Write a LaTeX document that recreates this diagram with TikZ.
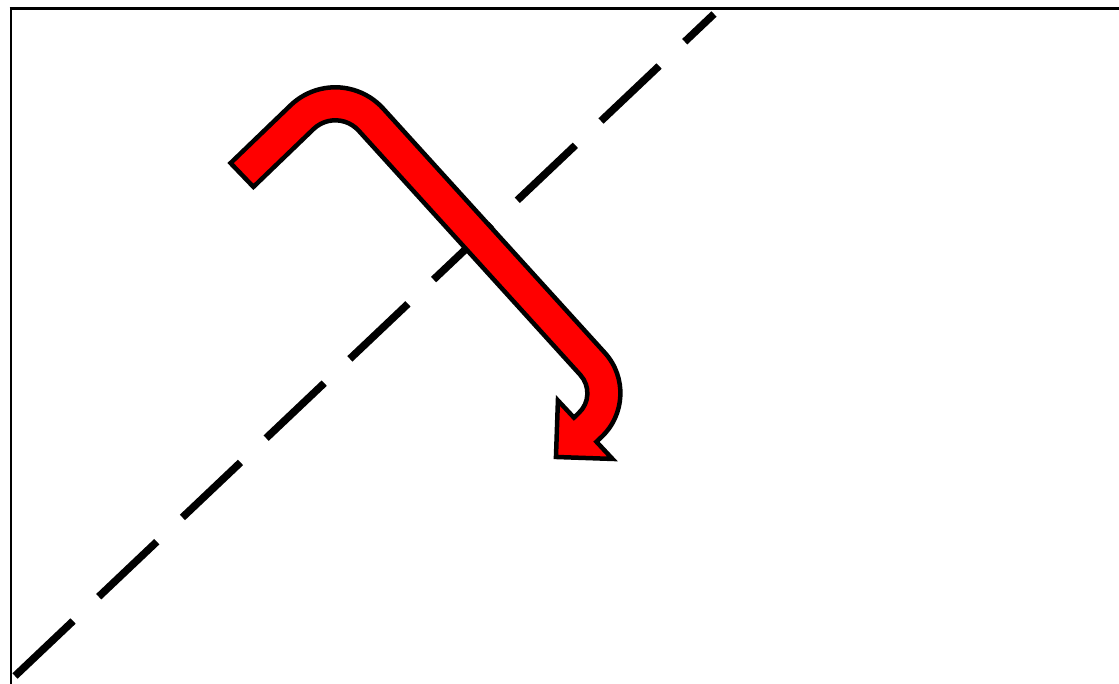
\documentclass[tikz,border=0pt]{standalone}
\begin{document}
\begin{tikzpicture}[x=1pt,y=1pt,
  framerule/.style={draw=black},
  axisline/.style={draw=black,line width=7.5pt,dash pattern=on 80pt off 35.3pt},
  bentarrow/.style={fill=red,draw=black,line width=4.5pt,line join=miter}]
\clip (0,0) rectangle (1119,684);
% frame
\coordinate (ftl) at (11,675);
\coordinate (ftr) at (1130,675);
\coordinate (fbl) at (11,-10);
\draw[framerule,line width=3pt] (ftl) ++(-1.5,0) -- (ftr);
\draw[framerule,line width=2pt] (ftl) -- (fbl);
% dashed diagonal
\coordinate (da) at (15,8);
\coordinate (db) at (714,670);
\draw[axisline] (da) -- (db);
% bent red arrow
\coordinate (tailL) at (230.57,520.90);
\coordinate (tailR) at (253.43,497.10);
\coordinate (tip) at (555.96,227.02);
\draw[bentarrow]
  (tailL) -- (290.66,578.75)
  arc[start angle=133.8,end angle=42.3,radius=64.5]
  -- (604.75,331.25)
  arc[start angle=42.3,end angle=-47,radius=60.1]
  -- (596.45,242.24)
  -- (612.48,225.06)
  -- (tip)
  -- (557.92,283.54)
  -- (573.95,266.36)
  -- (578.78,270.98)
  arc[start angle=-47,end angle=42.3,radius=27.1]
  -- (358.60,553.40)
  arc[start angle=42.3,end angle=133.8,radius=31.5]
  -- (tailR) -- cycle;
\end{tikzpicture}
\end{document}
